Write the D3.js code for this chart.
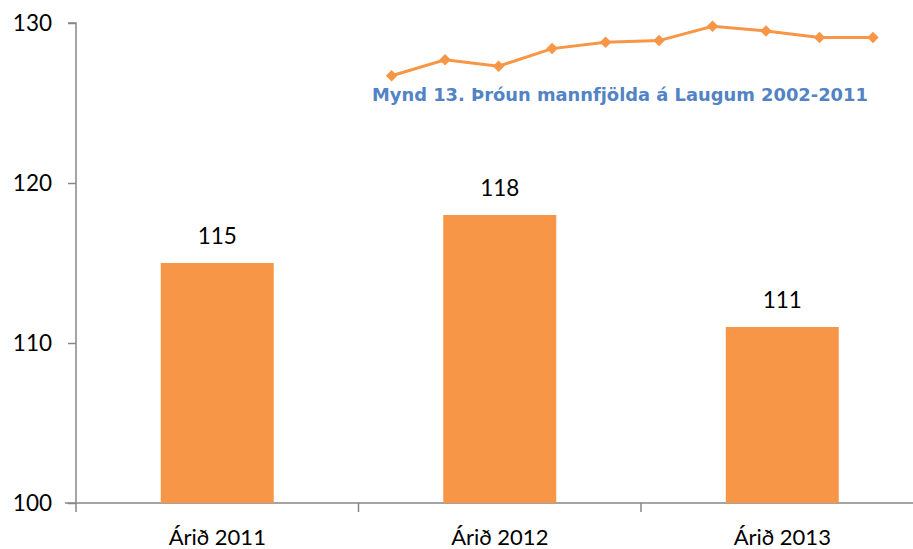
<!DOCTYPE html>
<html>
<head>
<meta charset="utf-8">
<script src="https://cdn.jsdelivr.net/npm/d3@7"></script>
<style>
  body { margin: 0; background: #fff; }
  svg { display: block; }
  text { font-family: "Lato"; }
</style>
</head>
<body>
<svg id="chart"></svg>
<script>
// bar data
const categories = ["Árið 2011", "Árið 2012", "Árið 2013"];
const values = [115, 118, 111];
const yTicks = [100, 110, 120, 130];

// cropped population line from the figure above (Mynd 13)
const lineYears = [2002, 2003, 2004, 2005, 2006, 2007, 2008, 2009, 2010, 2011];
const lineValues = [126.7, 127.7, 127.3, 128.4, 128.8, 128.9, 129.8, 129.5, 129.1, 129.1];
const lineTitle = "Mynd 13. Þróun mannfjölda á Laugum 2002-2011";

const width = 913;
const height = 549;
const orange = "#F79646";
const axisColor = "#868686";
const font = "Lato";

const svg = d3.select("#chart")
  .attr("width", width)
  .attr("height", height);

// Scales
const xScale = d3.scaleBand()
  .domain(categories)
  .range([76, 76 + 3 * 282.5]);

const yScale = d3.scaleLinear()
  .domain([100, 130])
  .range([503, 23]);

const lineX = d3.scalePoint()
  .domain(lineYears)
  .range([391.6, 873]);

// y axis
const yAxis = svg.append("g")
  .attr("transform", "translate(76,0)")
  .call(d3.axisLeft(yScale).tickValues(yTicks).tickSize(8).tickPadding(16).tickFormat(d3.format("d")));
yAxis.select(".domain").attr("stroke", axisColor).attr("stroke-width", 1.5).attr("d", `M-8,${yScale(130)}H0V${yScale(100) + 9}`);
yAxis.selectAll(".tick line").attr("stroke", axisColor).attr("stroke-width", 1.5);
yAxis.selectAll(".tick text")
  .attr("fill", "#000")
  .style("font-family", font)
  .style("font-size", "22.5px");

// x axis
const xAxis = svg.append("g")
  .attr("transform", `translate(0,${yScale(100)})`)
  .call(d3.axisBottom(xScale).tickSize(0).tickPadding(26));
xAxis.select(".domain").attr("stroke", axisColor).attr("stroke-width", 1.5).attr("d", "M65,0H913");
xAxis.selectAll(".tick text")
  .attr("fill", "#000")
  .style("font-family", font)
  .style("font-size", "22px");

// x tick marks between categories
xAxis.selectAll(".sep")
  .data(categories)
  .enter()
  .append("line")
  .attr("class", "sep")
  .attr("x1", (d) => xScale(d) + xScale.bandwidth())
  .attr("x2", (d) => xScale(d) + xScale.bandwidth())
  .attr("y1", 0)
  .attr("y2", 9)
  .attr("stroke", axisColor)
  .attr("stroke-width", 1.5);

// bars
const barW = xScale.bandwidth() * 0.4;
svg.selectAll(".bar")
  .data(values)
  .enter()
  .append("rect")
  .attr("class", "bar")
  .attr("x", (d, i) => xScale(categories[i]) + (xScale.bandwidth() - barW) / 2)
  .attr("y", (d) => yScale(d))
  .attr("width", barW)
  .attr("height", (d) => yScale(100) - yScale(d))
  .attr("fill", orange);

// value labels
svg.selectAll(".label")
  .data(values)
  .enter()
  .append("text")
  .attr("class", "label")
  .attr("x", (d, i) => xScale(categories[i]) + xScale.bandwidth() / 2)
  .attr("y", (d) => yScale(d) - 19)
  .attr("text-anchor", "middle")
  .style("font-family", font)
  .style("font-size", "22.5px")
  .text((d) => d);

// cropped line from the figure above
const line = d3.line()
  .x((d, i) => lineX(lineYears[i]))
  .y((d) => yScale(d));

svg.append("path")
  .datum(lineValues)
  .attr("d", line)
  .attr("fill", "none")
  .attr("stroke", orange)
  .attr("stroke-width", 3);

svg.selectAll(".marker")
  .data(lineValues)
  .enter()
  .append("path")
  .attr("class", "marker")
  .attr("d", d3.symbol().type(d3.symbolDiamond2).size(85))
  .attr("transform", (d, i) => `translate(${lineX(lineYears[i])},${yScale(d)})`)
  .attr("fill", orange);

// title of the figure above, fitted to its width
const title = svg.append("text")
  .attr("x", 372)
  .attr("y", 101)
  .attr("fill", "#5283C4")
  .style("font-family", "'DejaVu Sans'")
  .style("font-weight", "bold")
  .style("font-size", "18px")
  .text(lineTitle);
const tw = title.node().getComputedTextLength();
title.style("font-size", (18 * 496 / tw) + "px");
</script>
</body>
</html>
